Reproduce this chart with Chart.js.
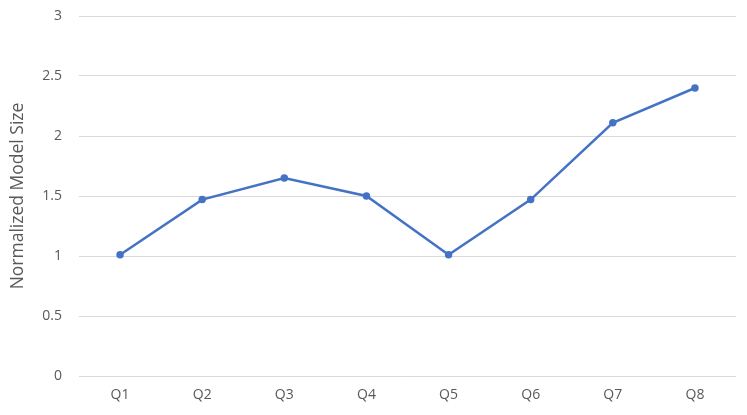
<!DOCTYPE html>
<html><head><meta charset="utf-8">
<script src="https://cdn.jsdelivr.net/npm/chart.js@4"></script>
<style>html,body{margin:0;padding:0;background:#fff}#wrap{width:747px;height:415px}</style>
</head><body><div id="wrap"><canvas id="c"></canvas></div>
<script>
const categories = ['Q1','Q2','Q3','Q4','Q5','Q6','Q7','Q8'];
const modelSize = [1.01, 1.47, 1.65, 1.50, 1.01, 1.47, 2.11, 2.40];
const yTicks = [0, 0.5, 1, 1.5, 2, 2.5, 3];
const yTitle = 'Normalized Model Size';

const FONT = "'Open Sans', 'Liberation Sans', sans-serif";
new Chart(document.getElementById('c'), {
  type: 'line',
  data: { labels: categories, datasets: [{
    data: modelSize, borderColor: '#4472C4', backgroundColor: '#4472C4',
    borderWidth: 2.5, pointRadius: 2.5, pointHoverRadius: 2.5, tension: 0, fill: false
  }]},
  options: {
    responsive: true, maintainAspectRatio: false, animation: false,
    devicePixelRatio: 1,
    layout: { padding: { top: 16, right: 11, bottom: 0, left: 0 } },
    plugins: { legend: { display: false }, tooltip: { enabled: false } },
    scales: {
      x: {
        offset: true,
        grid: { display: false, drawTicks: false },
        border: { display: false },
        ticks: { color: '#595959', font: { family: FONT, size: 14 }, padding: 11 },
        afterFit: s => { s.height = 39; s.paddingLeft = 0; s.paddingRight = 0; }
      },
      y: {
        min: 0, max: 3,
        afterBuildTicks: s => { s.ticks = yTicks.map(v => ({ value: v })); },
        grid: { color: '#d9d9d9', lineWidth: 1, drawTicks: false },
        border: { display: false },
        ticks: { color: '#595959', font: { family: FONT, size: 14 }, padding: 17, callback: v => String(v) },
        title: { display: true, text: yTitle, color: '#595959', font: { family: FONT, size: 17.5 }, padding: { top: 8, bottom: 0 } },
        afterFit: s => { s.width = 79; s.paddingTop = 0; s.paddingBottom = 0; }
      }
    }
  }
});
</script>
</body></html>
